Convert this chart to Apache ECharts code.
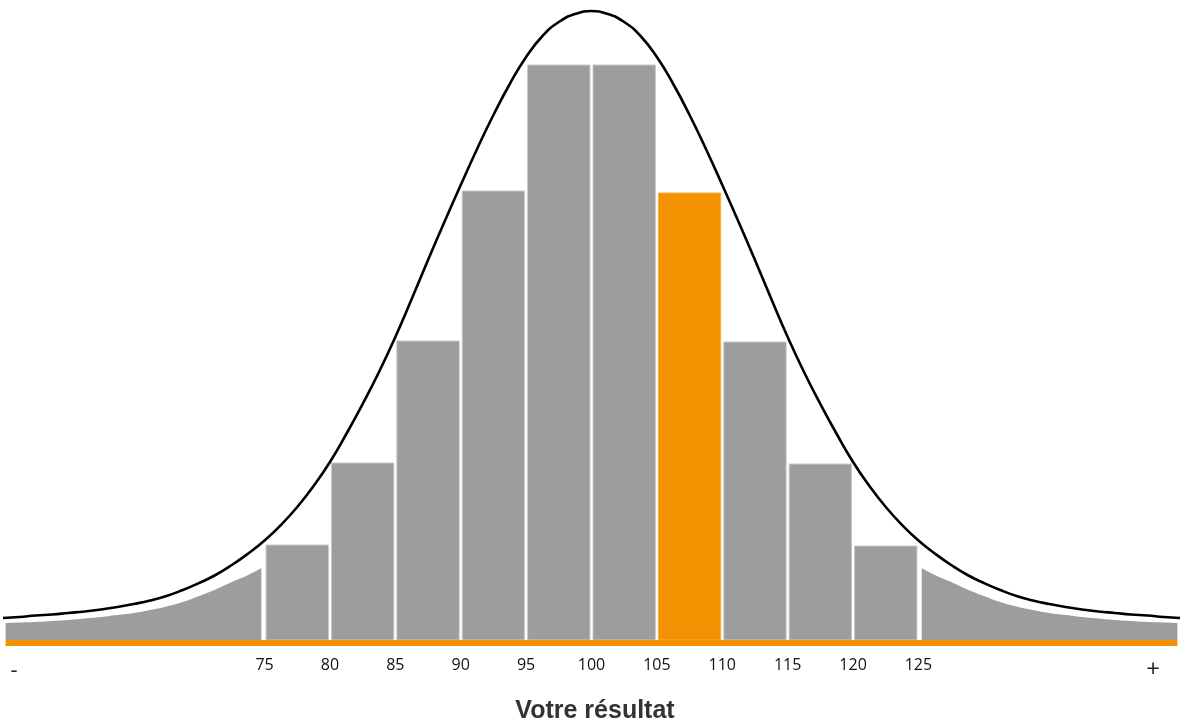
<!DOCTYPE html>
<html>
<head>
<meta charset="utf-8">
<script src="https://cdn.jsdelivr.net/npm/echarts@6/dist/echarts.min.js"></script>
<style>
html,body{margin:0;padding:0;background:#fff;}
#chart{width:1183px;height:727px;}
</style>
</head>
<body>
<div id="chart"></div>
<script>
// ---- data ----
var binEdges = [75, 80, 85, 90, 95, 100, 105, 110, 115, 120, 125];
var binHeights = [95, 177, 299, 449, 575, 575, 447, 298, 176, 94];
var highlightBinStart = 105;

var curveX = [55, 56.25, 57.5, 58.75, 60, 61.25, 62.5, 63.75, 65, 66.25, 67.5, 68.75, 70, 71.25, 72.5, 73.75,
              75, 76.25, 77.5, 78.75, 80, 81.25, 82.5, 83.75, 85, 86.25, 87.5, 88.75, 90, 91.25, 92.5, 93.75,
              95, 96.25, 97.5, 98.75, 100,
              101.25, 102.5, 103.75, 105, 106.25, 107.5, 108.75, 110, 111.25, 112.5, 113.75, 115, 116.25,
              117.5, 118.75, 120, 121.25, 122.5, 123.75, 125, 126.25, 127.5, 128.75, 130, 131.25, 132.5,
              133.75, 135, 136.25, 137.5, 138.75, 140, 141.25, 142.5, 143.75, 145];
var curveY = [22, 23, 24.5, 25.5, 27, 28.5, 30.5, 33, 36, 39.5, 44, 50, 57, 65, 75, 86.5,
              99.5, 115, 133, 154, 178, 206, 236, 268, 303, 341, 380, 418, 455, 491, 525, 556,
              583, 604, 618, 626, 629,
              626, 618, 604, 583, 556, 525, 491, 455, 418, 380, 341, 303, 268,
              236, 206, 178, 154, 133, 115, 99.5, 86.5, 75, 65, 57, 50, 44,
              39.5, 36, 33, 30.5, 28.5, 27, 25.5, 24.5, 23, 22];

var leftTailX = [55.2, 56.25, 57.5, 58.75, 60, 61.25, 62.5, 63.75, 65, 66.25, 67.5, 68.75, 70, 71.25, 72.5, 73.75, 74.75];
var leftTailY = [17, 17.5, 18, 19, 20, 21.5, 23, 25, 27, 30, 33.5, 38, 44, 50.5, 58, 65, 72];
var rightTailX = [125.25, 126.25, 127.5, 128.75, 130, 131.25, 132.5, 133.75, 135, 136.25, 137.5, 138.75, 140, 141.25, 142.5, 143.75, 144.8];
var rightTailY = [72, 65, 58, 50.5, 44, 38, 33.5, 30, 27, 25, 23, 21.5, 20, 19, 18, 17.5, 17];

var baselineX = [55.2, 144.8];
var baselineY = [-3, -3];

var tickLabels = ['75', '80', '85', '90', '95', '100', '105', '110', '115', '120', '125'];
var axisTitle = 'Votre résultat';
var minusLabel = '-';
var plusLabel = '+';

// ---- build ----
var GRAY = '#9d9d9c';
var ORANGE = '#f39200';

function pairs(xs, ys) { return xs.map(function (x, i) { return [x, ys[i]]; }); }

var barData = binHeights.map(function (h, i) {
  return [binEdges[i], binEdges[i + 1], h, binEdges[i] === highlightBinStart ? 1 : 0];
});

var chart = echarts.init(document.getElementById('chart'), null, {renderer: 'canvas'});
chart.setOption({
  animation: false,
  backgroundColor: '#fff',
  grid: {left: 0, right: 2, top: 11, bottom: 87, containLabel: false},
  xAxis: {
    type: 'value', min: 55, max: 145, interval: 5,
    axisLine: {show: false}, axisTick: {show: false}, splitLine: {show: false},
    axisLabel: {
      show: true, margin: 17, color: '#111', fontFamily: 'Open Sans', fontSize: 16,
      formatter: function (v) {
        var s = String(v);
        return tickLabels.indexOf(s) >= 0 ? s : '';
      }
    }
  },
  yAxis: {type: 'value', min: 0, max: 629, show: false, splitLine: {show: false}},
  series: [
    {
      type: 'line', data: pairs(leftTailX, leftTailY), smooth: 0.5,
      showSymbol: false, lineStyle: {width: 0}, areaStyle: {color: GRAY, opacity: 1}, silent: true, z: 1
    },
    {
      type: 'line', data: pairs(rightTailX, rightTailY), smooth: 0.5,
      showSymbol: false, lineStyle: {width: 0}, areaStyle: {color: GRAY, opacity: 1}, silent: true, z: 1
    },
    {
      type: 'custom', data: barData, z: 2, silent: true, clip: false,
      renderItem: function (params, api) {
        var p0 = api.coord([api.value(0), api.value(2)]);
        var p1 = api.coord([api.value(1), 0]);
        var hi = api.value(3) === 1;
        return {
          type: 'rect',
          shape: {x: p0[0] + 1.5, y: p0[1], width: p1[0] - p0[0] - 3, height: p1[1] - p0[1]},
          style: {fill: hi ? ORANGE : GRAY, stroke: hi ? '#f6b24f' : '#c9c9c9', lineWidth: 1}
        };
      }
    },
    {
      type: 'line', data: pairs(baselineX, baselineY), showSymbol: false, clip: false, silent: true,
      lineStyle: {color: ORANGE, width: 6, cap: 'butt'}, z: 3
    },
    {
      type: 'line', data: pairs(curveX, curveY), smooth: 0.5, showSymbol: false,
      clip: false, silent: true, lineStyle: {color: '#000', width: 2.6}, z: 4
    }
  ],
  graphic: [
    {type: 'text', x: 595, y: 711, style: {text: axisTitle, fill: '#333', font: 'bold 25px "Liberation Sans", Arial, sans-serif', textAlign: 'center', textVerticalAlign: 'middle'}},
    {type: 'text', x: 14, y: 671, style: {text: minusLabel, fill: '#222', font: '22px "Open Sans", sans-serif', textAlign: 'center', textVerticalAlign: 'middle'}},
    {type: 'text', x: 1153, y: 670, style: {text: plusLabel, fill: '#222', font: '24px "Open Sans", sans-serif', textAlign: 'center', textVerticalAlign: 'middle'}}
  ]
});
</script>
</body>
</html>
